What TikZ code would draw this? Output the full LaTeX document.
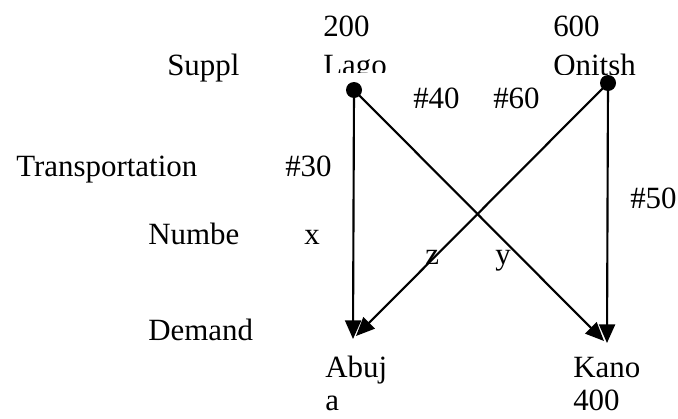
\documentclass[tikz,border=0pt]{standalone}
\usepackage{fontspec}
\setmainfont{Liberation Serif}
\usetikzlibrary{arrows.meta}
\tikzset{
  lbl/.style={anchor=base west, inner sep=0pt, font=\fontsize{23.2}{28}\selectfont},
  dot/.style={circle, fill=black, inner sep=0pt, minimum size=12pt},
  flow/.style={line width=1.6pt, -{Triangle[length=14pt,width=12pt]}}
}
\begin{document}
\begin{tikzpicture}[x=0.75pt,y=-0.75pt]
\useasboundingbox (0,0) rectangle (678,418);
% left labels
\node[lbl] (suppl) at (167,75.5) {Suppl};
\node[lbl] (transp) at (16,176) {Transportation};
\node[lbl] (numbe) at (148,244) {Numbe};
\node[lbl] (demand) at (148,340.5) {Demand};
% supply values and names
\node[lbl] (s200) at (323,36) {200};
\node[lbl] (s600) at (553,36) {600};
\begin{scope}
  \clip (300,40) rectangle (400,72);
  \node[lbl] (lagos) at (323,75.5) {Lago};
\end{scope}
\begin{scope}
  \clip (530,40) rectangle (660,74);
  \node[lbl] (onitsh) at (553,75.5) {Onitsh};
\end{scope}
% cost labels
\node[lbl] (c30) at (285,176) {\#30};
\node[lbl] (c40) at (413,108) {\#40};
\node[lbl] (c60) at (493,108) {\#60};
\node[lbl] (c50) at (630,208) {\#50};
% variable labels
\node[lbl] (vx) at (304,244) {x};
\node[lbl] (vz) at (425,264) {z};
\node[lbl] (vy) at (495,264) {y};
% demand names
\node[lbl] (abuja1) at (325,377) {Abuj};
\node[lbl] (abuja2) at (325,410) {a};
\node[lbl] (kano) at (573,377) {Kano};
\node[lbl] (d400) at (573,410) {400};
% source dots and sinks
\node[dot] (lagosDot) at (354,90) {};
\node[dot] (onitshDot) at (608,83) {};
\coordinate (abujaTip) at (353,339);
\coordinate (abujaTipB) at (356,336);
\coordinate (kanoTip) at (607,343);
\coordinate (kanoTipB) at (604,341);
% connectors
\draw[flow] (lagosDot.center) -- (abujaTip);
\draw[flow] (onitshDot.center) -- (abujaTipB);
\draw[flow] (lagosDot.center) -- (kanoTipB);
\draw[flow] (onitshDot.center) -- (kanoTip);
\end{tikzpicture}
\end{document}
